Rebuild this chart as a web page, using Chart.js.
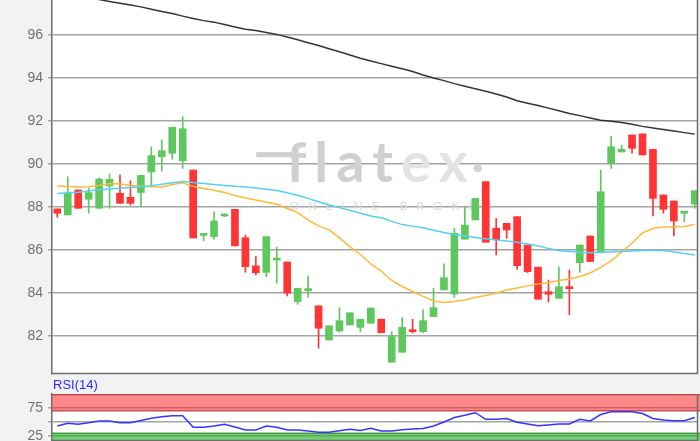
<!DOCTYPE html>
<html>
<head>
<meta charset="utf-8">
<script src="https://cdn.jsdelivr.net/npm/chart.js@4.4.1/dist/chart.umd.min.js"></script>
<style>
html, body { margin: 0; padding: 0; background: #f2f2f2; }
#wrap { position: relative; width: 700px; height: 441px; overflow: hidden; }
#main { position: absolute; left: 0; top: 0; }
#rsi { position: absolute; left: 0; top: 376px; }
</style>
</head>
<body>
<div id="wrap">
  <canvas id="main" width="700" height="375"></canvas>
  <canvas id="rsi" width="700" height="65"></canvas>
</div>
<script>
// candles
const opens  = [87.91, 87.63, 88.79, 88.36, 87.94, 88.98, 88.64, 88.45, 88.67, 89.63, 90.34, 90.50, 90.15, 89.72, 86.68, 86.62,
                87.58, 87.89, 86.57, 85.26, 84.96, 85.53, 85.44, 83.60, 84.11, 83.40, 81.81, 82.23, 82.51, 82.40, 82.59, 82.78,
                80.78, 81.24, 82.28, 82.20, 82.90, 84.14, 83.95, 86.50, 87.40, 89.18, 87.01, 87.24, 87.55, 86.23, 85.20, 84.06,
                83.75, 84.29, 85.41, 86.65, 85.87, 90.03, 90.56, 91.35, 91.40, 90.68, 88.56, 88.28, 87.71, 88.13];
const highs  = [87.91, 89.41, 88.79, 88.87, 89.36, 89.53, 89.49, 89.22, 89.47, 90.80, 91.12, 91.71, 92.20, 89.72, 86.76, 87.78,
                87.68, 87.89, 86.70, 85.69, 86.62, 86.13, 85.44, 84.22, 84.79, 83.40, 82.47, 83.32, 83.08, 82.78, 83.30, 82.78,
                82.20, 82.85, 82.78, 83.21, 84.22, 85.35, 87.01, 88.01, 88.40, 89.18, 87.47, 87.24, 87.55, 86.23, 85.20, 84.60,
                85.22, 85.07, 86.23, 86.65, 89.72, 91.30, 90.88, 91.35, 91.40, 90.68, 88.56, 88.28, 87.77, 88.76];
const lows   = [87.52, 87.63, 87.94, 87.71, 87.94, 87.94, 88.17, 88.09, 88.00, 88.98, 89.67, 90.22, 89.80, 86.56, 86.43, 86.50,
                87.55, 86.19, 84.96, 84.84, 84.76, 84.45, 83.86, 83.47, 83.80, 81.43, 81.81, 82.20, 82.51, 82.20, 82.59, 82.15,
                80.78, 81.24, 82.13, 82.15, 82.90, 84.14, 83.80, 86.50, 87.40, 86.36, 85.77, 86.54, 85.10, 84.95, 83.71, 83.57,
                83.75, 82.98, 84.96, 85.46, 85.87, 89.80, 90.56, 90.50, 90.42, 87.58, 87.71, 86.65, 87.32, 87.94];
const closes = [87.71, 88.64, 87.94, 88.67, 89.30, 89.29, 88.17, 88.17, 89.47, 90.39, 90.62, 91.71, 91.64, 86.56, 86.76, 87.35,
                87.62, 86.19, 85.22, 84.94, 86.62, 85.57, 83.99, 84.22, 84.20, 82.36, 82.47, 82.71, 83.08, 82.78, 83.30, 82.15,
                81.97, 82.40, 82.20, 82.71, 83.32, 84.71, 86.78, 87.16, 88.40, 86.36, 86.47, 86.93, 85.27, 84.99, 83.71, 83.94,
                84.29, 84.20, 86.23, 85.46, 88.71, 90.80, 90.68, 90.73, 90.42, 88.40, 87.89, 87.35, 87.77, 88.76];

// moving averages
const avgLong  = [97.99, 97.90, 97.81, 97.73, 97.65, 97.56, 97.48, 97.40, 97.31, 97.20, 97.10, 97.00, 96.88, 96.77, 96.67, 96.60,
                  96.49, 96.37, 96.27, 96.21, 96.12, 96.03, 95.91, 95.78, 95.64, 95.51, 95.36, 95.22, 95.07, 94.92, 94.79, 94.67,
                  94.55, 94.43, 94.30, 94.14, 94.00, 93.88, 93.74, 93.62, 93.50, 93.38, 93.26, 93.12, 92.94, 92.83, 92.72, 92.60,
                  92.48, 92.35, 92.25, 92.14, 92.04, 91.99, 91.93, 91.85, 91.75, 91.67, 91.60, 91.53, 91.46, 91.39];
const avgMid   = [88.63, 88.66, 88.69, 88.74, 88.80, 88.84, 88.87, 88.91, 88.94, 88.99, 89.06, 89.13, 89.18, 89.14, 89.09, 89.05,
                  89.00, 88.96, 88.93, 88.88, 88.82, 88.77, 88.66, 88.55, 88.40, 88.24, 88.09, 87.97, 87.85, 87.71, 87.58, 87.50,
                  87.33, 87.18, 87.11, 87.03, 86.92, 86.81, 86.72, 86.65, 86.58, 86.52, 86.47, 86.42, 86.36, 86.28, 86.19, 86.07,
                  85.98, 85.93, 85.89, 85.87, 85.89, 85.91, 85.93, 85.95, 85.97, 85.97, 85.97, 85.91, 85.84, 85.77];
const avgShort = [88.98, 88.95, 88.93, 88.94, 89.00, 89.09, 89.07, 89.00, 88.97, 88.94, 88.93, 89.05, 89.13, 88.96, 88.86, 88.78,
                  88.67, 88.53, 88.42, 88.33, 88.23, 88.13, 87.93, 87.74, 87.40, 87.12, 86.95, 86.56, 86.16, 85.79, 85.35, 85.02,
                  84.58, 84.30, 84.07, 83.84, 83.63, 83.56, 83.60, 83.67, 83.79, 83.88, 84.00, 84.14, 84.23, 84.33, 84.42, 84.48,
                  84.58, 84.65, 84.77, 84.93, 85.19, 85.49, 85.91, 86.31, 86.79, 87.00, 87.07, 87.08, 87.09, 87.20];

// RSI(14)
const rsi14 = [42.9, 47.7, 46.1, 48.6, 51.8, 51.8, 48.8, 48.8, 52.7, 56.8, 59.5, 61.3, 61.3, 40.5, 40.5, 42.9,
               45.9, 41.1, 35.7, 35.7, 42.9, 40.5, 35.7, 35.7, 33.9, 31.6, 31.6, 34.3, 37.0, 34.8, 38.8, 33.9,
               33.9, 36.1, 37.5, 38.6, 42.9, 50.0, 58.0, 62.0, 66.6, 54.8, 54.8, 56.1, 49.5, 46.4, 43.2, 44.6,
               46.4, 46.4, 54.8, 51.8, 63.4, 68.4, 68.4, 68.4, 65.2, 56.3, 53.6, 52.3, 52.3, 58.0];
const rsiTicks = [25, 50, 75];
const rsiBands = [30, 70];

const days = opens.map((o, i) => i);
const up = '#5ec85e', down = '#ff3434';
const candleColors = days.map(i => closes[i] >= opens[i] ? up : down);

const font = "'Liberation Sans', Arial, sans-serif";
const xRange = { min: -0.507, max: 61.31 };

function fixWidth(s) {
  s.width = 52;
  s.paddingTop = 0;
  s.paddingBottom = 0;
}

// white plot area + bottom / right frame
const frame = {
  id: 'frame',
  beforeDraw(chart) {
    const a = chart.chartArea, ctx = chart.ctx;
    ctx.save();
    ctx.fillStyle = '#fff';
    ctx.fillRect(a.left, a.top, a.right - a.left, a.bottom - a.top);
    ctx.restore();
  },
  afterDraw(chart) {
    const a = chart.chartArea, ctx = chart.ctx;
    ctx.save();
    ctx.strokeStyle = '#6e6e6e';
    ctx.lineWidth = 1.5;
    ctx.beginPath();
    ctx.moveTo(a.left, a.bottom - 0.5);
    ctx.lineTo(a.right - 0.5, a.bottom - 0.5);
    ctx.lineTo(a.right - 0.5, a.top);
    ctx.stroke();
    ctx.restore();
  }
};

// flatex logo behind the candles
const watermark = {
  id: 'watermark',
  beforeDatasetsDraw(chart) {
    const a = chart.chartArea, ctx = chart.ctx;
    const cx = (a.left + a.right) / 2;
    const base = a.top + (a.bottom - a.top) * 0.487;
    ctx.save();
    ctx.font = 'bold 56px Lato, sans-serif';
    ctx.letterSpacing = '8px';
    ctx.textBaseline = 'alphabetic';
    const wFlat = ctx.measureText('flat').width;
    const wEx = ctx.measureText('ex').width;
    const x0 = cx - (wFlat + wEx) / 2 + 6;
    ctx.fillStyle = '#d0d0d0';
    ctx.fillRect(x0 - 30, base - 30, 36, 5);
    ctx.fillText('flat', x0, base);
    ctx.fillStyle = '#e3e3e3';
    ctx.fillText('ex', x0 + wFlat, base);
    ctx.fillStyle = '#d2d2d2';
    ctx.beginPath();
    ctx.arc(x0 + wFlat + wEx + 2, base - 14, 4, 0, Math.PI * 2);
    ctx.fill();
    ctx.font = '12px Lato, sans-serif';
    ctx.letterSpacing = '9px';
    ctx.fillStyle = '#dadada';
    ctx.textAlign = 'center';
    ctx.fillText('ONLINE BROKER', cx + 20, base + 28);
    ctx.restore();
  }
};

new Chart(document.getElementById('main'), {
  type: 'bar',
  data: {
    datasets: [
      { type: 'line', data: days.map(i => ({ x: i, y: avgLong[i] })), borderColor: '#333', borderWidth: 1.5, pointRadius: 0, order: 0 },
      { type: 'line', data: days.map(i => ({ x: i, y: avgMid[i] })), borderColor: '#52d2f2', borderWidth: 1.5, pointRadius: 0, order: 0 },
      { type: 'line', data: days.map(i => ({ x: i, y: avgShort[i] })), borderColor: '#ffb938', borderWidth: 1.5, pointRadius: 0, order: 0 },
      { data: days.map(i => ({ x: i, y: [opens[i], closes[i]] })), backgroundColor: candleColors, barThickness: 7, minBarLength: 2, grouped: false, order: 1 },
      { data: days.map(i => ({ x: i, y: [lows[i], highs[i]] })), backgroundColor: candleColors, barThickness: 1, grouped: false, order: 2 }
    ]
  },
  options: {
    responsive: false,
    animation: false,
    devicePixelRatio: 1,
    layout: { padding: { left: 0, right: 2, top: 0, bottom: 1 } },
    plugins: { legend: { display: false }, tooltip: { enabled: false } },
    scales: {
      x: { type: 'linear', min: xRange.min, max: xRange.max, display: false, offset: false },
      y: {
        min: 80.23, max: 97.63,
        afterFit: fixWidth,
        ticks: { stepSize: 2, includeBounds: false, color: '#707070', padding: 5, font: { family: font, size: 14 } },
        grid: { color: '#a4a4a4', lineWidth: 1.5, tickLength: 4 },
        border: { color: '#6e6e6e', width: 1.5 }
      }
    }
  },
  plugins: [frame, watermark]
});

// RSI bands and label
const rsiDecor = {
  id: 'rsiDecor',
  beforeDatasetsDraw(chart) {
    const a = chart.chartArea, ctx = chart.ctx, y = chart.scales.y;
    const yTop = y.getPixelForValue(100);
    const yHi = y.getPixelForValue(rsiBands[1]);
    const yLo = y.getPixelForValue(rsiBands[0]);
    const w = chart.width - a.left;
    ctx.save();
    ctx.fillStyle = 'rgba(255,40,40,0.55)';
    ctx.fillRect(a.left, yTop, w, yHi - yTop);
    ctx.fillStyle = 'rgba(40,180,40,0.65)';
    ctx.fillRect(a.left, yLo, w, a.bottom - yLo);
    ctx.lineWidth = 1.5;
    ctx.strokeStyle = 'rgba(190,70,70,0.9)';
    ctx.beginPath();
    ctx.moveTo(a.left, yTop + 0.75); ctx.lineTo(chart.width, yTop + 0.75);
    ctx.moveTo(a.left, yHi); ctx.lineTo(chart.width, yHi);
    ctx.stroke();
    ctx.strokeStyle = 'rgba(60,150,60,0.9)';
    ctx.beginPath();
    ctx.moveTo(a.left, yLo); ctx.lineTo(chart.width, yLo);
    ctx.stroke();
    ctx.restore();
  },
  afterDraw(chart) {
    const a = chart.chartArea, ctx = chart.ctx;
    ctx.save();
    ctx.font = '13px ' + font;
    ctx.fillStyle = '#2a2aff';
    ctx.textBaseline = 'middle';
    ctx.fillText('RSI(14)', a.left + 1, a.top - 9);
    ctx.restore();
  }
};

new Chart(document.getElementById('rsi'), {
  type: 'line',
  data: {
    datasets: [
      { data: days.map(i => ({ x: i, y: rsi14[i] })), borderColor: '#3535ff', borderWidth: 1.5, pointRadius: 0 }
    ]
  },
  options: {
    responsive: false,
    animation: false,
    devicePixelRatio: 1,
    layout: { padding: { left: 0, right: 2, top: 18, bottom: 0 } },
    plugins: { legend: { display: false }, tooltip: { enabled: false } },
    scales: {
      x: { type: 'linear', min: xRange.min, max: xRange.max, display: false, offset: false },
      y: {
        min: 16.07, max: 100,
        afterFit: fixWidth,
        afterBuildTicks: s => { s.ticks = rsiTicks.map(v => ({ value: v })); },
        ticks: { color: '#707070', padding: 5, font: { family: font, size: 14 }, callback: v => v === 50 ? '' : v },
        grid: { color: '#a4a4a4', lineWidth: 1.5, tickLength: 4 },
        border: { color: '#6e6e6e', width: 1.5 }
      }
    }
  },
  plugins: [frame, rsiDecor]
});
</script>
</body>
</html>
